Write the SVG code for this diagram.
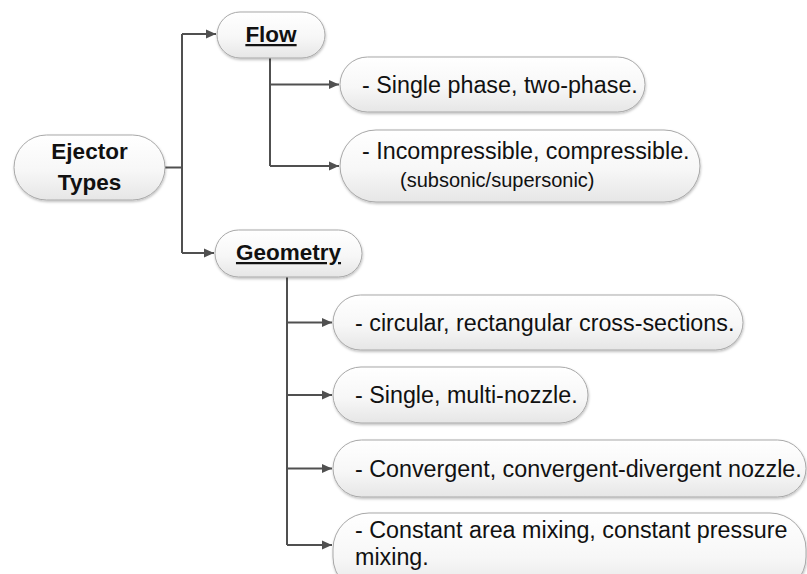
<svg xmlns="http://www.w3.org/2000/svg" width="807" height="574" viewBox="0 0 807 574">
  <defs>
    <linearGradient id="boxFill" x1="0" y1="0" x2="0" y2="1">
      <stop offset="0" stop-color="#ffffff"/>
      <stop offset="0.55" stop-color="#f7f7f7"/>
      <stop offset="1" stop-color="#e6e6e6"/>
    </linearGradient>
    <filter id="soft" x="-5%" y="-10%" width="110%" height="130%">
      <feDropShadow dx="0.5" dy="1.5" stdDeviation="1.2" flood-color="#000" flood-opacity="0.25"/>
    </filter>
    <marker id="arrow" markerUnits="userSpaceOnUse" markerWidth="10" markerHeight="10" refX="10" refY="5" orient="auto">
      <path d="M0,0.5 L10,5 L0,9.5 z" fill="#505050"/>
    </marker>
  </defs>
  <style>
    .box { fill: url(#boxFill); stroke: #a8a8a8; stroke-width: 1; filter: url(#soft); }
    .lbl { font-family: "Liberation Sans", Arial, sans-serif; font-size: 23.3px; fill: #111; }
    .small { font-size: 20px; }
    .head { font-family: "Liberation Sans", Arial, sans-serif; font-size: 22.5px; font-weight: bold; fill: #111; }
    .ul { text-decoration: underline; }
    .wire { fill: none; stroke: #505050; stroke-width: 2; }
  </style>
  <rect width="807" height="574" fill="#ffffff"/>

  <!-- connectors -->
  <g id="connectors">
    <path class="wire" d="M165,167.5 H182"/>
    <path class="wire" d="M182,34 V253"/>
    <path class="wire" d="M182,34 H216" marker-end="url(#arrow)"/>
    <path class="wire" d="M182,253 H214" marker-end="url(#arrow)"/>
    <path class="wire" d="M270,58 V166"/>
    <path class="wire" d="M270,84.5 H339" marker-end="url(#arrow)"/>
    <path class="wire" d="M270,166 H339" marker-end="url(#arrow)"/>
    <path class="wire" d="M287,277 V545"/>
    <path class="wire" d="M287,322.5 H332" marker-end="url(#arrow)"/>
    <path class="wire" d="M287,395 H332" marker-end="url(#arrow)"/>
    <path class="wire" d="M287,468.5 H332" marker-end="url(#arrow)"/>
    <path class="wire" d="M287,545 H332" marker-end="url(#arrow)"/>
  </g>

  <!-- root -->
  <g id="ejector-types">
    <rect class="box" x="14" y="135" width="151" height="65" rx="32.5"/>
    <text class="head" x="89.5" y="159" text-anchor="middle">Ejector</text>
    <text class="head" x="89.5" y="190" text-anchor="middle">Types</text>
  </g>

  <!-- flow branch -->
  <g id="flow">
    <rect class="box" x="217" y="12" width="108" height="46" rx="23"/>
    <text class="head ul" x="271" y="42" text-anchor="middle">Flow</text>
  </g>
  <g id="flow-phase">
    <rect class="box" x="340" y="57" width="305" height="55" rx="27.5"/>
    <text class="lbl" x="362" y="93">- Single phase, two-phase.</text>
  </g>
  <g id="flow-compressibility">
    <rect class="box" x="340" y="130" width="360" height="72" rx="36"/>
    <text class="lbl" x="362" y="159">- Incompressible, compressible.</text>
    <text class="lbl small" x="400" y="187">(subsonic/supersonic)</text>
  </g>

  <!-- geometry branch -->
  <g id="geometry">
    <rect class="box" x="215" y="230" width="147" height="47" rx="23.5"/>
    <text class="head ul" x="288.5" y="260" text-anchor="middle">Geometry</text>
  </g>
  <g id="geom-cross-section">
    <rect class="box" x="333" y="295" width="410" height="55" rx="27.5"/>
    <text class="lbl" x="355" y="331">- circular, rectangular cross-sections.</text>
  </g>
  <g id="geom-nozzle-count">
    <rect class="box" x="333" y="367" width="255" height="56" rx="28"/>
    <text class="lbl" x="355" y="403">- Single, multi-nozzle.</text>
  </g>
  <g id="geom-nozzle-shape">
    <rect class="box" x="333" y="440" width="473" height="57" rx="28.5"/>
    <text class="lbl" x="355" y="477">- Convergent, convergent-divergent nozzle.</text>
  </g>
  <g id="geom-mixing">
    <rect class="box" x="333" y="513" width="473" height="80" rx="36"/>
    <text class="lbl" x="355" y="538">- Constant area mixing, constant pressure</text>
    <text class="lbl" x="355" y="565">mixing.</text>
  </g>
</svg>
